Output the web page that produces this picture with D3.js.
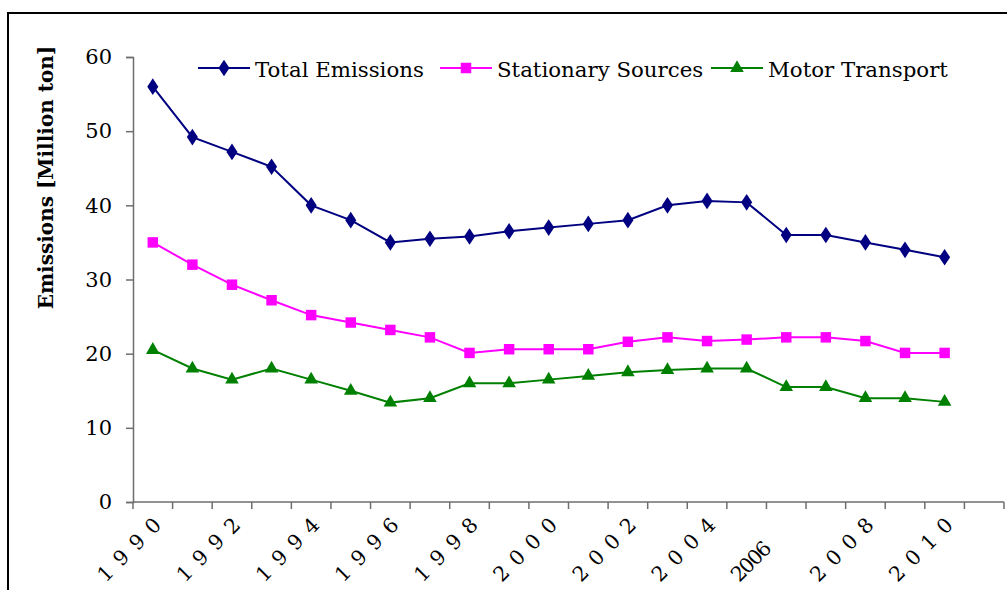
<!DOCTYPE html>
<html>
<head>
<meta charset="utf-8">
<script src="https://cdn.jsdelivr.net/npm/d3@7"></script>
<style>
  html, body { margin: 0; padding: 0; background: #fff; }
  svg { display: block; }
  text { font-family: "DejaVu Serif", serif; fill: #000; }
</style>
</head>
<body>
<svg id="chart" width="1007" height="590"></svg>
<script>
// ---- data ----
const years = d3.range(1990, 2012).map(String); // 22 category slots, last one empty
const totalEmissions = [56, 49.2, 47.2, 45.2, 40, 38, 35, 35.5, 35.8, 36.5, 37, 37.5, 38, 40, 40.6, 40.4, 36, 36, 35, 34, 33];
const stationarySources = [35, 32, 29.3, 27.2, 25.2, 24.2, 23.2, 22.2, 20.1, 20.6, 20.6, 20.6, 21.6, 22.2, 21.7, 21.9, 22.2, 22.2, 21.7, 20.1, 20.1];
const motorTransport = [20.5, 18, 16.5, 18, 16.5, 15, 13.4, 14, 16, 16, 16.5, 17, 17.5, 17.8, 18, 18, 15.5, 15.5, 14, 14, 13.5];
const seriesNames = ["Total Emissions", "Stationary Sources", "Motor Transport"];
const tickYears = ["1990","1992","1994","1996","1998","2000","2002","2004","2006","2008","2010"];
const tickLabels = ["1 9 9 0","1 9 9 2","1 9 9 4","1 9 9 6","1 9 9 8","2 0 0 0","2 0 0 2","2 0 0 4","2006","2 0 0 8","2 0 1 0"];
const yTicks = [0, 10, 20, 30, 40, 50, 60];
const yTitle = "Emissions [Million ton]";

// ---- layout / style ----
const svg = d3.select("#chart");
svg.append("rect").attr("width", 1007).attr("height", 590).attr("fill", "#fff");

// outer frame (top and left edges visible)
svg.append("path").attr("d", "M8,590 V13 H1007").attr("fill", "none").attr("stroke", "#000").attr("stroke-width", 2);

const x = d3.scaleBand().domain(years).range([133, 1004]).padding(0);
const y = d3.scaleLinear().domain([0, 60]).range([502, 57]);
const cx = yr => x(yr) + x.bandwidth() / 2;

const axisColor = "#6e6e6e";

// y axis
const yAxis = svg.append("g").attr("transform", "translate(133,0)")
  .call(d3.axisLeft(y).tickValues(yTicks).tickSize(7).tickPadding(14).tickFormat(d3.format("d")));
yAxis.select(".domain").attr("stroke", axisColor).attr("stroke-width", 1.5);
yAxis.selectAll(".tick line").attr("stroke", axisColor).attr("stroke-width", 1.5);
yAxis.selectAll(".tick text").attr("font-family", "DejaVu Serif").attr("font-size", 21).attr("fill", "#000");

// x axis: ticks at category boundaries
const xg = svg.append("g");
xg.append("line").attr("x1", x.range()[0]).attr("x2", x.range()[1]).attr("y1", y(0)).attr("y2", y(0))
  .attr("stroke", axisColor).attr("stroke-width", 1.5);
const boundaries = years.map(d => x(d)).concat([x.range()[1]]);
xg.selectAll("line.tk").data(boundaries).enter().append("line").attr("class", "tk")
  .attr("x1", d => d).attr("x2", d => d).attr("y1", y(0)).attr("y2", y(0) + 7)
  .attr("stroke", axisColor).attr("stroke-width", 1.5);

// x tick labels (rotated -45)
xg.selectAll("text.xl").data(tickYears).enter().append("text").attr("class", "xl")
  .attr("transform", d => `translate(${cx(d) - 47},583) rotate(-45)`)
  .attr("text-anchor", "start")
  .attr("font-size", 20.5)
  .attr("word-spacing", "2.8px")
  .attr("letter-spacing", (d, i) => tickLabels[i].includes(" ") ? "0px" : "-1.6px")
  .text((d, i) => tickLabels[i]);

// y title
svg.append("text")
  .attr("transform", `translate(53,${(48 + 307) / 2}) rotate(-90)`)
  .attr("text-anchor", "middle")
  .attr("font-size", 20).attr("font-weight", "bold")
  .text(yTitle);

// series
const series = [
  { name: seriesNames[0], values: totalEmissions, color: "#000080", symbol: d3.symbolDiamond, size: 80 },
  { name: seriesNames[1], values: stationarySources, color: "#ff00ff", symbol: d3.symbolSquare, size: 110 },
  { name: seriesNames[2], values: motorTransport, color: "#008000", symbol: d3.symbolTriangle, size: 80 }
];

const line = d3.line().x((d, i) => cx(years[i])).y(d => y(d));

series.forEach(s => {
  const g = svg.append("g");
  g.append("path").attr("d", line(s.values)).attr("fill", "none")
    .attr("stroke", s.color).attr("stroke-width", 2);
  const sym = d3.symbol().type(s.symbol).size(s.size);
  g.selectAll("path.m").data(s.values).enter().append("path").attr("class", "m")
    .attr("d", sym)
    .attr("transform", (d, i) => `translate(${cx(years[i])},${y(d)})` + (s.symbol === d3.symbolDiamond ? " scale(1.15,1)" : ""))
    .attr("fill", s.color);
});

// legend
const legendPos = [
  { lx: 198, tx: 255 },
  { lx: 440, tx: 497 },
  { lx: 711, tx: 768 }
];
const ly = 68;
series.forEach((s, i) => {
  const p = legendPos[i];
  const g = svg.append("g");
  g.append("line").attr("x1", p.lx).attr("x2", p.lx + 52).attr("y1", ly).attr("y2", ly)
    .attr("stroke", s.color).attr("stroke-width", 2);
  g.append("path").attr("d", d3.symbol().type(s.symbol).size(s.size)())
    .attr("transform", `translate(${p.lx + 26},${ly})` + (s.symbol === d3.symbolDiamond ? " scale(1.15,1)" : ""))
    .attr("fill", s.color);
  g.append("text").attr("x", p.tx).attr("y", ly + 9).attr("font-size", 21.3).text(s.name);
});
</script>
</body>
</html>
